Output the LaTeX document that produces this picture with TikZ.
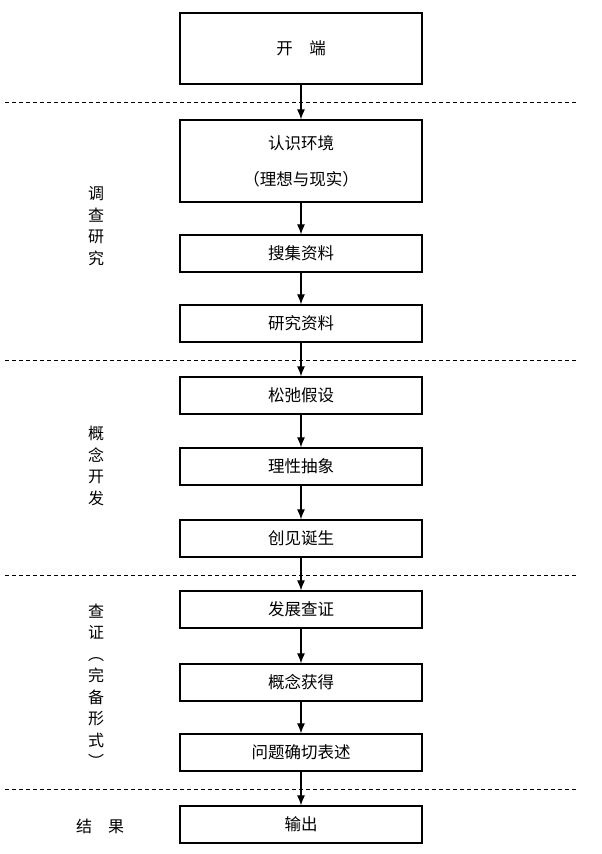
\documentclass[tikz,border=0pt]{standalone}
\usepackage{fontspec}
\setmainfont{Noto Sans CJK SC}
\usetikzlibrary{arrows.meta}
\begin{document}
\begin{tikzpicture}[x=1pt,y=-1pt,
  box/.style={draw,line width=1.3pt,minimum width=242pt,inner sep=0pt,font=\fontsize{16.5}{18}\selectfont},
  arr/.style={-{Latex[length=10pt,width=8pt]},line width=1.1pt},
  sep/.style={dashed,line width=0.6pt,dash pattern=on 4pt off 3pt},
  side/.style={font=\fontsize{16}{21.5}\selectfont,align=center}]
\useasboundingbox (0,0) rectangle (602,854);
\node[box,minimum height=71pt] (a) at (301,48.5) {开\quad 端};
\node[box,minimum height=82pt,align=center,font=\fontsize{16.5}{36}\selectfont] (b) at (301,161) {认识环境\\（理想与现实）};
\node[box,minimum height=37pt] (c) at (301,253.5) {搜集资料};
\node[box,minimum height=37pt] (d) at (301,323.5) {研究资料};
\node[box,minimum height=37pt] (e) at (301,395.5) {松弛假设};
\node[box,minimum height=37pt] (f) at (301,466.5) {理性抽象};
\node[box,minimum height=37pt] (g) at (301,538.5) {创见诞生};
\node[box,minimum height=37pt] (h) at (301,609.5) {发展查证};
\node[box,minimum height=37pt] (i) at (301,682.5) {概念获得};
\node[box,minimum height=37pt] (j) at (301,752.5) {问题确切表述};
\node[box,minimum height=37pt] (k) at (301,824.5) {输出};
\foreach \y in {102,360,575,789} \draw[sep] (5,\y) -- (578,\y);
\foreach \p/\q in {a/b,b/c,c/d,d/e,e/f,f/g,g/h,h/i,i/j,j/k} \draw[arr] (\p) -- (\q);
\node[side] (s1) at (96,226) {调\\查\\研\\究};
\node[side] (s2) at (96,466) {概\\念\\开\\发};
\node[side] (s3) at (96,686) {查\\证\\︵\\完\\备\\形\\式\\︶};
\node[side] (s4) at (100,826) {结\quad 果};
\end{tikzpicture}
\end{document}
